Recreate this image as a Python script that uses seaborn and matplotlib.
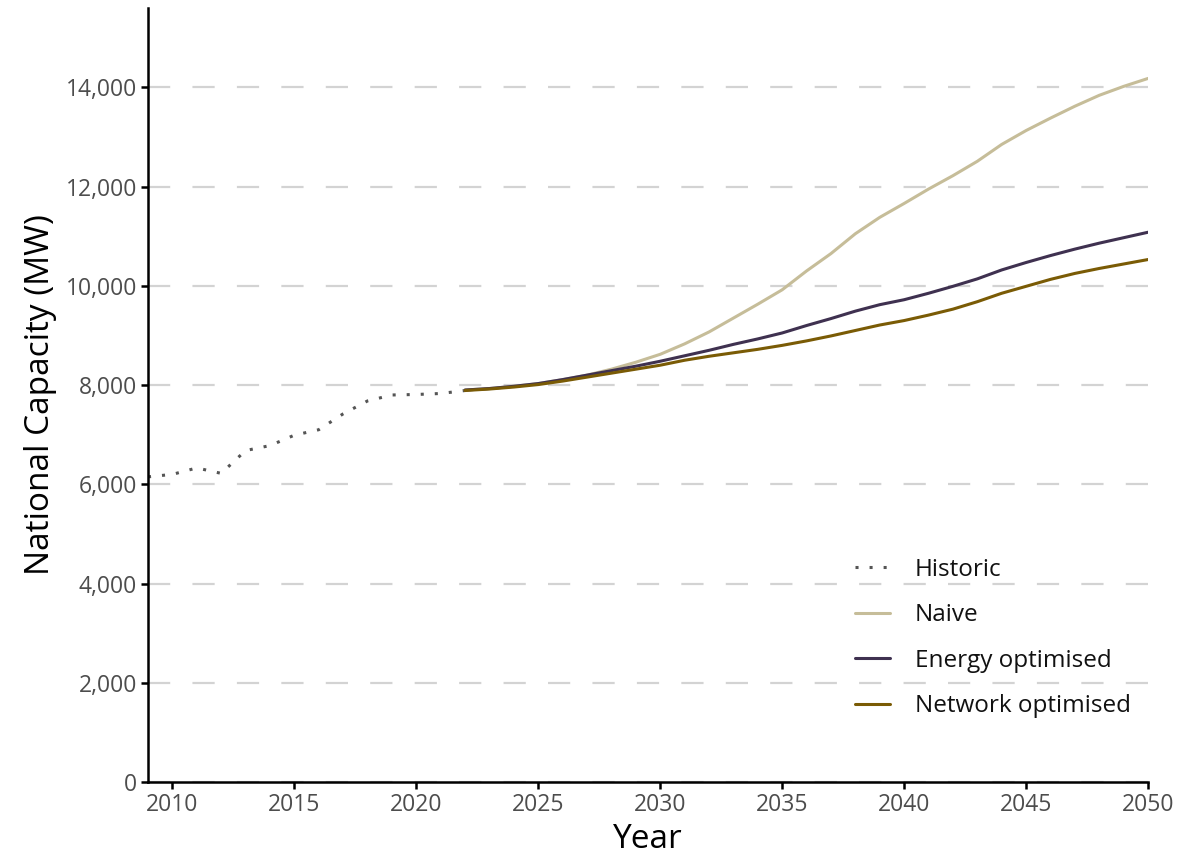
import matplotlib
matplotlib.use("Agg")
import matplotlib.pyplot as plt
from matplotlib.ticker import FuncFormatter, MultipleLocator
import seaborn as sns
import pandas as pd

# Historic installed capacity (MW)
hist_years = list(range(2009, 2023))
hist_values = [6150, 6200, 6330, 6220, 6680, 6780, 6990, 7100, 7420, 7680,
               7800, 7810, 7830, 7890]

# Scenario projections (MW)
proj_years = list(range(2022, 2051))
naive = [7900, 7930, 7975, 8030, 8110, 8200, 8320, 8460, 8620, 8830,
         9070, 9350, 9630, 9920, 10300, 10650, 11050, 11380, 11660, 11950,
         12220, 12510, 12850, 13130, 13380, 13620, 13840, 14020, 14180]
energy_opt = [7900, 7930, 7975, 8030, 8110, 8200, 8290, 8380, 8480, 8590,
              8700, 8820, 8930, 9050, 9200, 9340, 9490, 9620, 9720, 9850,
              9990, 10140, 10320, 10470, 10610, 10740, 10860, 10970, 11080]
network_opt = [7890, 7920, 7960, 8010, 8080, 8160, 8240, 8320, 8400, 8500,
               8580, 8650, 8720, 8800, 8890, 8990, 9100, 9210, 9300, 9410,
               9530, 9680, 9850, 9990, 10130, 10250, 10350, 10440, 10530]

series_names = ["Historic", "Naive", "Energy optimised", "Network optimised"]
series_colors = ["#555555", "#c6bd99", "#3f3150", "#7a5b05"]

sns.set_theme(style="white")
plt.rcParams["font.family"] = ["Open Sans", "DejaVu Sans"]

fig = plt.figure(figsize=(11.86, 8.58), dpi=100)
ax = fig.add_axes([0.1248, 0.0886, 0.968 - 0.1248, 0.9907 - 0.0886])

hist_df = pd.DataFrame({"Year": hist_years, "MW": hist_values})
sns.lineplot(data=hist_df, x="Year", y="MW", ax=ax, color=series_colors[0],
             linewidth=2.2, linestyle=(0, (1, 3.6)), label=series_names[0])

for name, vals, col in zip(series_names[1:], [naive, energy_opt, network_opt],
                           series_colors[1:]):
    df = pd.DataFrame({"Year": proj_years, "MW": vals})
    sns.lineplot(data=df, x="Year", y="MW", ax=ax, color=col,
                 linewidth=2.2, label=name)

ax.set_xlim(2009, 2050)
ax.set_ylim(0, 15600)
ax.xaxis.set_major_locator(MultipleLocator(5))
ax.yaxis.set_major_locator(MultipleLocator(2000))
ax.xaxis.set_major_formatter(FuncFormatter(lambda v, p: f"{int(v)}"))
ax.yaxis.set_major_formatter(FuncFormatter(lambda v, p: f"{v:,.0f}"))

ax.grid(axis="y", color="#d3d3d3", linewidth=1.6, linestyle=(0, (10, 10)))
ax.grid(axis="x", visible=False)
ax.set_axisbelow(True)

for side in ("top", "right"):
    ax.spines[side].set_visible(False)
for side in ("left", "bottom"):
    ax.spines[side].set_color("black")
    ax.spines[side].set_linewidth(1.8)

ax.tick_params(axis="both", which="major", direction="out", length=5,
               width=1.8, color="black", labelsize=16.5, labelcolor="#4d4d4d",
               bottom=True, left=True, pad=3)

ax.set_xlabel("Year", fontsize=24, color="black", labelpad=4)
ax.set_ylabel("National Capacity (MW)", fontsize=24, color="black", labelpad=6)

leg = ax.legend(loc="upper left", bbox_to_anchor=(0.697, 0.302), frameon=False,
                fontsize=17.5, handlelength=1.45, handletextpad=1.03,
                labelspacing=0.88, borderaxespad=0)
for txt in leg.get_texts():
    txt.set_color("#111111")

fig.savefig("out.png", dpi=100)
